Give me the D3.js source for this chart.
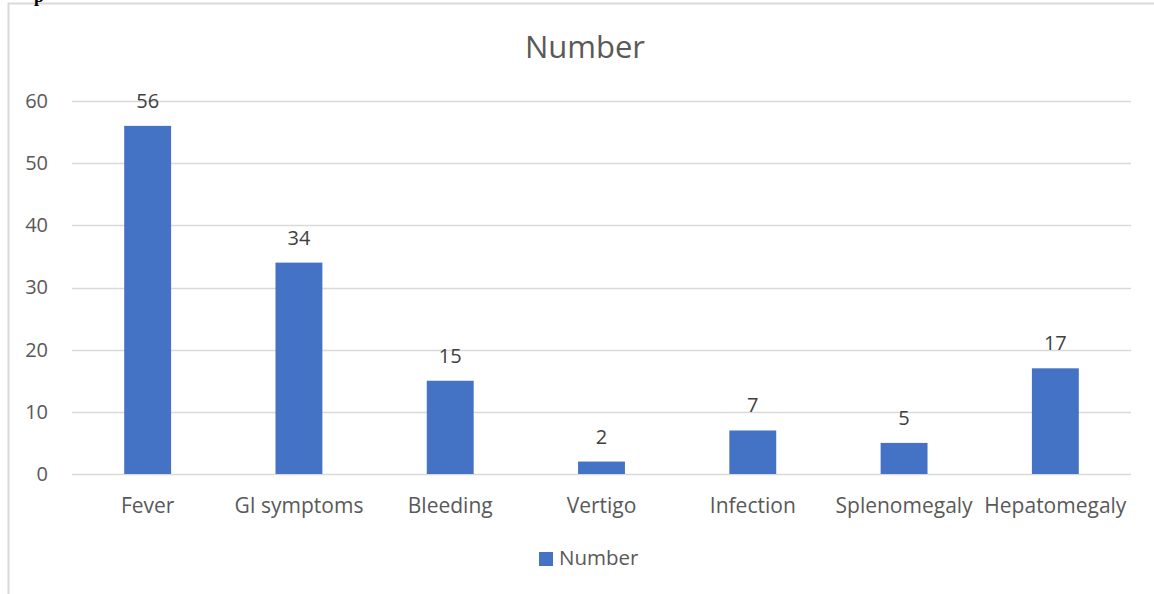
<!DOCTYPE html>
<html>
<head>
<meta charset="utf-8">
<script src="https://cdn.jsdelivr.net/npm/d3@7"></script>
<style>
  body { margin: 0; background: #fff; }
  svg { display: block; font-family: "Open Sans", "Noto Sans", sans-serif; }
</style>
</head>
<body>
<svg id="chart" width="1154" height="594"></svg>
<script>
// data
const categories = ["Fever", "GI symptoms", "Bleeding", "Vertigo", "Infection", "Splenomegaly", "Hepatomegaly"];
const numbers = [56, 34, 15, 2, 7, 5, 17];
const yTicks = [0, 10, 20, 30, 40, 50, 60];
const seriesName = "Number";

const svg = d3.select("#chart");
const W = 1154, H = 594;
const margin = { top: 101, right: 23, bottom: 120, left: 72 };
const plotW = W - margin.left - margin.right;
const plotH = H - margin.top - margin.bottom;
const textColor = "#595959";
const barColor = "#4472c4";

// chart frame (cropped on the right and bottom in the source)
svg.append("path")
    .attr("d", `M8.5,${H} L8.5,3.5 L${W},3.5`)
    .attr("fill", "none")
    .attr("stroke", "#d9d9d9")
    .attr("stroke-width", 2);

// bit of cut-off text at the very top
svg.append("text")
    .attr("x", 34).attr("y", 2)
    .attr("font-family", "Liberation Serif")
    .attr("font-weight", "bold")
    .attr("font-size", 18)
    .attr("fill", "#000")
    .text("p");

const g = svg.append("g").attr("transform", `translate(${margin.left},${margin.top})`);

const x = d3.scaleBand().domain(categories).range([0, plotW]).paddingInner(0.69).paddingOuter(0.345);
const y = d3.scaleLinear().domain([0, 60]).range([plotH, 0]);

// gridlines
g.selectAll(".grid")
    .data(yTicks)
    .enter()
    .append("line")
    .attr("x1", 0).attr("x2", plotW)
    .attr("y1", d => Math.round(y(d)) + 0.5).attr("y2", d => Math.round(y(d)) + 0.5)
    .attr("stroke", "#d9d9d9")
    .attr("stroke-width", 1.5);

// y axis labels
const yAxis = g.append("g").call(d3.axisLeft(y).tickValues(yTicks).tickSize(0).tickPadding(24));
yAxis.select(".domain").remove();
yAxis.selectAll("text")
    .attr("font-size", 20)
    .attr("font-family", "Open Sans, Noto Sans, sans-serif")
    .attr("fill", textColor);

// bars
g.selectAll(".bar")
    .data(numbers)
    .enter()
    .append("rect")
    .attr("x", (d, i) => x(categories[i]))
    .attr("width", x.bandwidth())
    .attr("y", d => y(d))
    .attr("height", d => y(0) - y(d))
    .attr("fill", barColor);

// value labels
g.selectAll(".val")
    .data(numbers)
    .enter()
    .append("text")
    .attr("x", (d, i) => x(categories[i]) + x.bandwidth() / 2)
    .attr("y", d => y(d) - 18)
    .attr("text-anchor", "middle")
    .attr("font-size", 20)
    .attr("fill", "#404040")
    .text(d => d);

// x axis labels
const xAxis = g.append("g").attr("transform", `translate(0,${plotH})`)
    .call(d3.axisBottom(x).tickSize(0).tickPadding(24));
xAxis.select(".domain").remove();
xAxis.selectAll("text")
    .attr("font-size", 21)
    .attr("font-family", "Open Sans, Noto Sans, sans-serif")
    .attr("fill", textColor);

// title
svg.append("text")
    .attr("x", 585)
    .attr("y", 58)
    .attr("text-anchor", "middle")
    .attr("font-size", 31)
    .attr("fill", textColor)
    .text(seriesName);

// legend
const legend = svg.append("g").attr("transform", "translate(539,552)");
legend.append("rect").attr("width", 14).attr("height", 14).attr("fill", barColor);
legend.append("text")
    .attr("x", 20).attr("y", 13)
    .attr("font-size", 20.5)
    .attr("fill", textColor)
    .text(seriesName);
</script>
</body>
</html>
